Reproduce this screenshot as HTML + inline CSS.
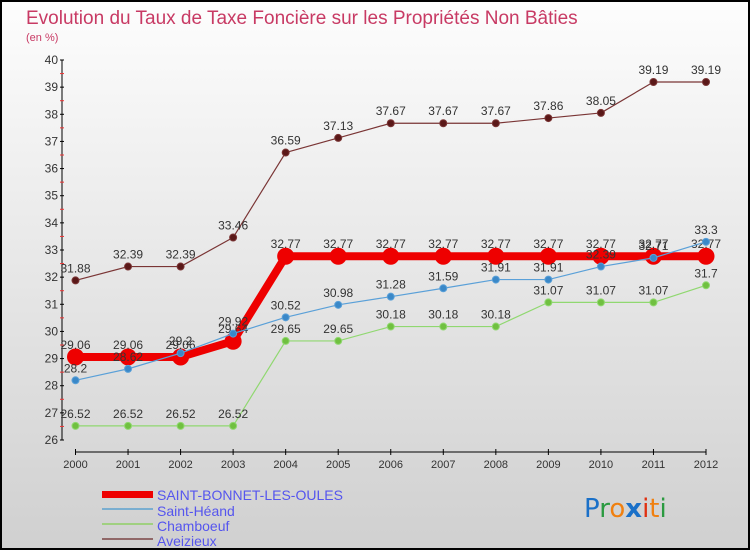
<!DOCTYPE html>
<html><head><meta charset="utf-8"><style>
body{margin:0;width:750px;height:550px;overflow:hidden;font-family:"Liberation Sans",sans-serif}
#wrap{position:absolute;left:0;top:0;width:746px;height:546px;border:2px solid #000;border-right:2px solid #000;background:linear-gradient(#fdfdfd,#d0d0d0);overflow:hidden}
</style></head><body>
<div id="wrap">
<svg id="chart" width="746" height="546" style="position:absolute;left:0;top:0;font-family:'Liberation Sans',sans-serif">
<text x="24" y="22" font-size="19" fill="#c83a64">Evolution du Taux de Taxe Foncière sur les Propriétés Non Bâties</text>
<text x="24" y="39" font-size="11" fill="#c83a64">(en %)</text>
<g id="axes"></g><g id="series"></g>
<g>
<rect x="100" y="489" width="51" height="7" fill="#e00"/>
<text x="155" y="498" font-size="14" fill="#5555ee">SAINT-BONNET-LES-OULES</text>
<rect x="100" y="506" width="51" height="2" fill="#7aaed0"/>
<text x="155" y="514" font-size="14" fill="#5555ee">Saint-Héand</text>
<rect x="100" y="521" width="51" height="2" fill="#a0d080"/>
<text x="155" y="529" font-size="14" fill="#5555ee">Chamboeuf</text>
<rect x="100" y="536" width="51" height="2" fill="#906868"/>
<text x="155" y="544" font-size="14" fill="#5555ee">Aveizieux</text>
</g>
<g font-size="26" font-family="'DejaVu Sans',sans-serif">
<text x="582" y="515"><tspan fill="#1a70c8">P</tspan><tspan fill="#2a9a40">r</tspan><tspan fill="#f08010">o</tspan><tspan fill="#1a70c8" font-weight="bold">x</tspan><tspan fill="#e03010">i</tspan><tspan fill="#f08010">t</tspan><tspan fill="#2a9a40">i</tspan></text>
</g>
</svg>
</div>
<script>
const years=[2000,2001,2002,2003,2004,2005,2006,2007,2008,2009,2010,2011,2012];
const yTicks=[26,27,28,29,30,31,32,33,34,35,36,37,38,39,40];
const saintBonnet=[29.06,29.06,29.06,29.64,32.77,32.77,32.77,32.77,32.77,32.77,32.77,32.77,32.77];
const saintHeand=[28.2,28.62,29.2,29.92,30.52,30.98,31.28,31.59,31.91,31.91,32.39,32.71,33.3];
const chamboeuf=[26.52,26.52,26.52,26.52,29.65,29.65,30.18,30.18,30.18,31.07,31.07,31.07,31.7];
const aveizieux=[31.88,32.39,32.39,33.46,36.59,37.13,37.67,37.67,37.67,37.86,38.05,39.19,39.19];
const NS='http://www.w3.org/2000/svg';
const x0=73.5,x1=704,y0=438,y1=58;
const xs=i=>x0+(x1-x0)*i/(years.length-1);
const ys=v=>y0-(v-26)*(y0-y1)/14;
function mk(t,a,p){const e=document.createElementNS(NS,t);for(const k in a)e.setAttribute(k,a[k]);p.appendChild(e);return e;}
const ax=document.getElementById('axes');
const yl=mk('line',{x1:60,y1:y1,x2:60,y2:y0,stroke:'#000'},ax);


const xl=mk('line',{x1:x0,y1:450,x2:x1,y2:450,stroke:'#000'},ax);


yTicks.forEach(v=>{
 mk('line',{x1:58,x2:62,y1:ys(v),y2:ys(v),stroke:'#000'},ax);
 if(v<40)mk('line',{x1:58,x2:62,y1:ys(v+0.5),y2:ys(v+0.5),stroke:'#e33'},ax);
 const t=mk('text',{x:56,y:ys(v)+4,'text-anchor':'end','font-size':12,fill:'#333'},ax);
 t.textContent=v;
 
 
});
years.forEach((yr,i)=>{
 mk('line',{x1:xs(i),x2:xs(i),y1:447,y2:453,stroke:'#000'},ax);
 const t=mk('text',{x:xs(i),y:466,'text-anchor':'middle','font-size':11,fill:'#333'},ax);
 t.textContent=yr;
 
 
});
const sg=document.getElementById('series');
function draw(data,name,color,w,r,fill){
 const g=mk('g',{},sg);
 
 
 const pl=mk('polyline',{points:data.map((v,i)=>xs(i)+','+ys(v)).join(' '),fill:'none',stroke:color,'stroke-width':w,'stroke-linejoin':'round'},g);
 
 
 data.forEach((v,i)=>{
  const c=mk('circle',{cx:xs(i),cy:ys(v),r:r,fill:fill,stroke:color,'stroke-width':1},g);
  
  
  const t=mk('text',{x:xs(i),y:ys(v)-8,'text-anchor':'middle','font-size':12,fill:'#333'},g);
  t.textContent=v;
  
  
 });
}
draw(aveizieux,'aveizieux','#7a3535',1.2,3.5,'#5a1818');
draw(chamboeuf,'chamboeuf','#90d870',1.2,3.5,'#70c040');
draw(saintBonnet,'saint-bonnet','#ee0000',8,8,'#ee0000');
draw(saintHeand,'saint-heand','#5aa0d8',1.2,3.5,'#3a88c8');
</script>
</body></html>
